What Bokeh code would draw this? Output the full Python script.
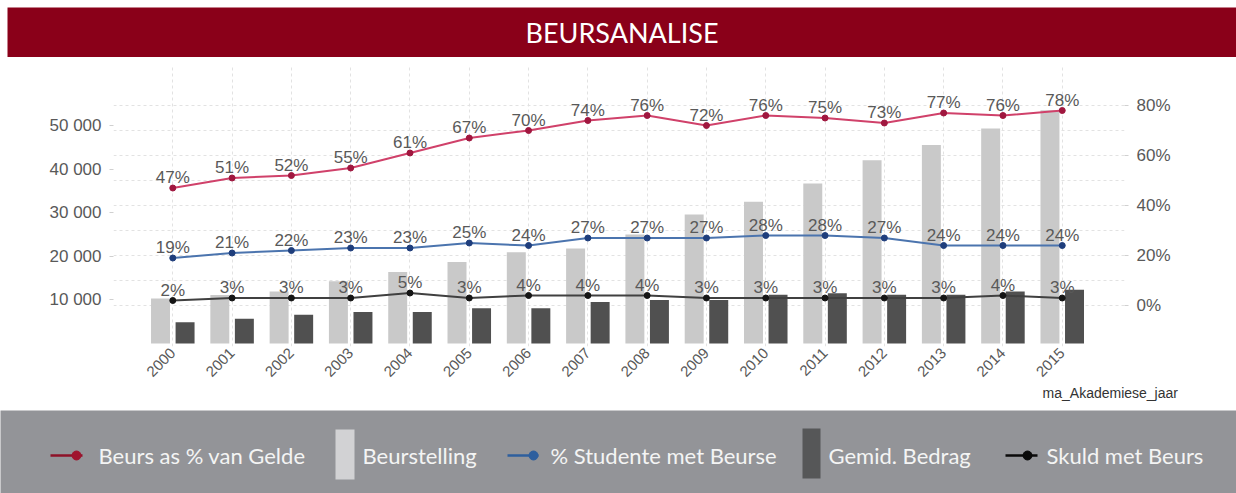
import math
from bokeh.plotting import figure
from bokeh.models import Range1d, LinearAxis, FixedTicker, Grid, ColumnDataSource
from bokeh.transform import dodge
from bokeh.core.properties import value
from bokeh.embed import file_html
from bokeh.resources import INLINE

# ---------------- data ----------------
years = list(range(2000, 2016))
year_labels = [str(y) for y in years]
beurstelling = [10300, 11100, 11900, 14300, 16400, 18700, 20900, 21800,
                25000, 29600, 32500, 36700, 42000, 45500, 49300, 53500]
gemid_bedrag = [4900, 5700, 6600, 7200, 7200, 8100, 8100, 9500,
                10000, 10000, 11200, 11500, 11200, 11200, 11900, 12300]
beurs_pct_gelde = [47, 51, 52, 55, 61, 67, 70, 74, 76, 72, 76, 75, 73, 77, 76, 78]
studente_pct = [19, 21, 22, 23, 23, 25, 24, 27, 27, 27, 28, 28, 27, 24, 24, 24]
skuld_pct = [2, 3, 3, 3, 5, 3, 4, 4, 4, 3, 3, 3, 3, 3, 4, 3]
left_ticks = [10000, 20000, 30000, 40000, 50000]
left_tick_labels = ["10 000", "20 000", "30 000", "40 000", "50 000"]
right_ticks = [0, 20, 40, 60, 80]
right_tick_labels = ["0%", "20%", "40%", "60%", "80%"]
pct_grid = [0, 10, 20, 30, 40, 50, 60, 70, 80]
series_names = ["Beurs as % van Gelde", "Beurstelling", "% Studente met Beurse",
                "Gemid. Bedrag", "Skuld met Beurs"]
title = "BEURSANALISE"
x_title = "ma_Akademiese_jaar"

# ---------------- styles ----------------
W = 1236
BANNER = "#8A0019"
LIGHT_BAR = "#C9C9C9"
DARK_BAR = "#505050"
RED_LINE, RED_DOT = "#D0416A", "#A0173F"
BLUE_LINE, BLUE_DOT = "#4B74AE", "#1F3E7C"
BLK_LINE, BLK_DOT = "#404040", "#151515"
TXT = "#595959"
FONT = value("Liberation Sans")

src = ColumnDataSource(dict(
    year=years, beurstelling=beurstelling, gemid=gemid_bedrag,
    red=beurs_pct_gelde, blue=studente_pct, blk=skuld_pct,
    red_lbl=[f"{v}%" for v in beurs_pct_gelde],
    blue_lbl=[f"{v}%" for v in studente_pct],
    blk_lbl=[f"{v}%" for v in skuld_pct],
))

# ---------------- banner ----------------
t = figure(width=W, height=57, x_range=Range1d(0, 1), y_range=Range1d(0, 1),
           output_backend="svg", toolbar_location=None,
           min_border_left=7, min_border_right=0, min_border_top=7, min_border_bottom=0,
           x_axis_location=None, y_axis_location=None)
t.grid.visible = False
t.background_fill_color = BANNER
t.border_fill_color = "white"
t.outline_line_color = None
t.text(x=[0.5], y=[0.5], text=[title], text_align="center", text_baseline="middle",
       text_color="white", text_font=value("Lato"), text_font_size="27px")

# ---------------- main chart ----------------
X_END = 2015.81  # position of the axis-title tick (right-aligned look)
p = figure(width=W, height=353, x_range=Range1d(1999.0, 2016.05),
           y_range=Range1d(-690, 63760), output_backend="svg", toolbar_location=None,
           min_border_left=113, min_border_right=112, min_border_top=8, min_border_bottom=64)
p.background_fill_color = "white"
p.border_fill_color = "white"
p.outline_line_color = None
p.extra_y_ranges = {"pct": Range1d(-16.4, 96)}

# grids
p.xgrid.ticker = FixedTicker(ticks=years)
p.xgrid.grid_line_color = "#E2E2E2"
p.xgrid.grid_line_dash = "3 3"
p.ygrid.visible = False
p.add_layout(Grid(dimension=1, ticker=FixedTicker(ticks=pct_grid), y_range_name="pct",
                  grid_line_color="#E2E2E2", grid_line_dash="3 3"))

# axes
xa = p.xaxis[0]
xa.ticker = FixedTicker(ticks=years)
xa.major_label_overrides = {y: l for y, l in zip(years, year_labels)}
xa.major_label_orientation = math.pi / 4
xa.axis_line_color = None
xa.major_tick_line_color = None
xa.minor_tick_line_color = None
xa.major_tick_out = 0
xa.major_label_standoff = 4
xa.major_label_text_font = "Liberation Sans"
xa.major_label_text_font_size = "15px"
xa.major_label_text_color = TXT

# axis title as a single-tick secondary axis so it can sit at the right
xt = LinearAxis(ticker=FixedTicker(ticks=[X_END]))
xt.major_label_overrides = {X_END: x_title}
xt.axis_line_color = None
xt.major_tick_line_color = None
xt.minor_tick_line_color = None
xt.major_tick_out = 0
xt.major_label_standoff = 0
xt.major_label_text_font = "Liberation Sans"
xt.major_label_text_font_size = "14px"
xt.major_label_text_color = "#333333"
p.add_layout(xt, "below")

ya = p.yaxis[0]
ya.ticker = FixedTicker(ticks=left_ticks)
ya.major_label_overrides = {v: l for v, l in zip(left_ticks, left_tick_labels)}
ya.axis_line_color = None
ya.minor_tick_line_color = None
ya.major_tick_line_color = "#D0D0D0"
ya.major_tick_out = 4
ya.major_tick_in = 0
ya.major_label_standoff = 8
ya.major_label_text_font = "Liberation Sans"
ya.major_label_text_font_size = "17px"
ya.major_label_text_color = TXT

ra = LinearAxis(y_range_name="pct", ticker=FixedTicker(ticks=right_ticks))
ra.major_label_overrides = {v: l for v, l in zip(right_ticks, right_tick_labels)}
ra.axis_line_color = None
ra.minor_tick_line_color = None
ra.major_tick_line_color = "#D0D0D0"
ra.major_tick_out = 4
ra.major_tick_in = 0
ra.major_label_standoff = 8
ra.major_label_text_font = "Liberation Sans"
ra.major_label_text_font_size = "17px"
ra.major_label_text_color = TXT
p.add_layout(ra, "right")

# bars
p.vbar(x=dodge("year", -0.207, range=p.x_range), top="beurstelling", width=0.32,
       source=src, fill_color=LIGHT_BAR, line_color=None)
p.vbar(x=dodge("year", 0.207, range=p.x_range), top="gemid", width=0.32,
       source=src, fill_color=DARK_BAR, line_color=None)

# lines, points, value labels
for col, lc, dc, lbl in [("red", RED_LINE, RED_DOT, "red_lbl"),
                         ("blue", BLUE_LINE, BLUE_DOT, "blue_lbl"),
                         ("blk", BLK_LINE, BLK_DOT, "blk_lbl")]:
    p.line("year", col, source=src, y_range_name="pct", line_color=lc, line_width=2)
    p.scatter("year", col, source=src, y_range_name="pct", size=6,
              fill_color=dc, line_color=dc)
    p.text("year", col, text=lbl, source=src, y_range_name="pct",
           text_align="center", text_baseline="bottom", y_offset=-1,
           text_font=FONT, text_font_size="17px", text_color=TXT)

# ---------------- legend band ----------------
LEG_BG = "#939498"
LH = 83
lg = figure(width=W, height=LH, x_range=Range1d(0, W), y_range=Range1d(0, LH),
            output_backend="svg", toolbar_location=None, min_border=0,
            x_axis_location=None, y_axis_location=None)
lg.grid.visible = False
lg.background_fill_color = LEG_BG
lg.border_fill_color = LEG_BG
lg.outline_line_color = None

cy = 38
LFONT = value("Lato")
LSIZE = "22px"
LCOL = "#F4F4F4"
# item 1: red line
lg.line(x=[50, 82], y=[cy, cy], line_color="#8E1228", line_width=2.5)
lg.scatter(x=[76], y=[cy], size=9, fill_color="#A0142E", line_color="#A0142E")
lg.text(x=[98], y=[cy], text=[series_names[0]], text_baseline="middle",
        text_font=LFONT, text_font_size=LSIZE, text_color=LCOL)
# item 2: light bar
lg.quad(left=[335], right=[354], bottom=[14], top=[64], fill_color="#D2D2D4", line_color=None)
lg.text(x=[362], y=[cy], text=[series_names[1]], text_baseline="middle",
        text_font=LFONT, text_font_size=LSIZE, text_color=LCOL)
# item 3: blue line
lg.line(x=[507, 538], y=[cy, cy], line_color="#2E5F9E", line_width=2.5)
lg.scatter(x=[533], y=[cy], size=9, fill_color="#2E5F9E", line_color="#2E5F9E")
lg.text(x=[550], y=[cy], text=[series_names[2]], text_baseline="middle",
        text_font=LFONT, text_font_size=LSIZE, text_color=LCOL)
# item 4: dark bar
lg.quad(left=[802], right=[820], bottom=[15], top=[65], fill_color="#565758", line_color=None)
lg.text(x=[828], y=[cy], text=[series_names[3]], text_baseline="middle",
        text_font=LFONT, text_font_size=LSIZE, text_color=LCOL)
# item 5: black line
lg.line(x=[1005, 1037], y=[cy, cy], line_color="#0A0A0A", line_width=2.5)
lg.scatter(x=[1027], y=[cy], size=9, fill_color="#0A0A0A", line_color="#0A0A0A")
lg.text(x=[1046], y=[cy], text=[series_names[4]], text_baseline="middle",
        text_font=LFONT, text_font_size=LSIZE, text_color=LCOL)

open("out.html", "w").write(file_html([t, p, lg], INLINE))
